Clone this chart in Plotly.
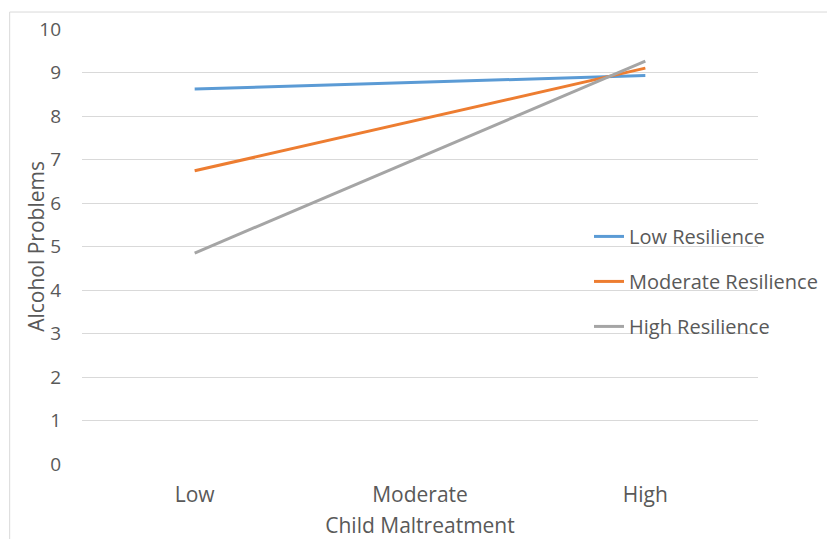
import plotly.graph_objects as go

categories = ["Low", "Moderate", "High"]
series_names = ["Low Resilience", "Moderate Resilience", "High Resilience"]
low_res = [8.62, None, 8.93]
mod_res = [6.74, None, 9.10]
high_res = [4.85, None, 9.26]
colors = ["#5B9BD5", "#ED7D31", "#A5A5A5"]
y_ticks = list(range(0, 11))

FONT = "Open Sans"
TXT = "#595959"

fig = go.Figure()
for i, (name, vals) in enumerate(zip(series_names, [low_res, mod_res, high_res])):
    fig.add_trace(go.Scatter(
        x=categories, y=vals, name=name, mode="lines",
        connectgaps=True, legendgroup=f"g{i}",
        line=dict(color=colors[i], width=3),
    ))

# page body has an 8px margin, so the figure is shrunk by 8px and margins compensated
fig.update_layout(
    width=827, height=531,
    margin=dict(l=74, r=73, t=21, b=75),
    paper_bgcolor="white", plot_bgcolor="white",
    font=dict(family=FONT, size=19, color=TXT),
    showlegend=True,
    legend=dict(
        x=0.750, y=0.568, xanchor="left", yanchor="top",
        bgcolor="rgba(0,0,0,0)", tracegroupgap=16,
        font=dict(family=FONT, size=20, color=TXT),
        itemwidth=30,
    ),
    xaxis=dict(
        type="category", categoryorder="array", categoryarray=categories,
        range=[-0.5, 2.5], showgrid=False, zeroline=False, showline=False,
        ticks="", tickfont=dict(size=21, color=TXT), ticklabelstandoff=16,
        title=dict(text="Child Maltreatment", font=dict(size=21, color=TXT), standoff=13),
        automargin=False,
    ),
    yaxis=dict(
        range=[0, 10], tickvals=y_ticks, showgrid=True, gridcolor="#D9D9D9",
        gridwidth=1, zeroline=False, showline=False, ticks="",
        tickfont=dict(size=19, color=TXT), ticklabelstandoff=20,
        automargin=False,
    ),
    annotations=[dict(
        text="Alcohol Problems", textangle=-90, xref="paper", yref="paper",
        x=-0.069, y=0.5, xanchor="center", yanchor="middle", showarrow=False,
        font=dict(family=FONT, size=21, color=TXT),
    )],
)

fig.add_shape(type="rect", xref="paper", yref="paper",
              x0=-0.107, x1=1.2, y0=-0.3, y1=1.039,
              line=dict(color="#D9D9D9", width=1), fillcolor="rgba(0,0,0,0)", layer="below")

fig.write_html("out.html")
